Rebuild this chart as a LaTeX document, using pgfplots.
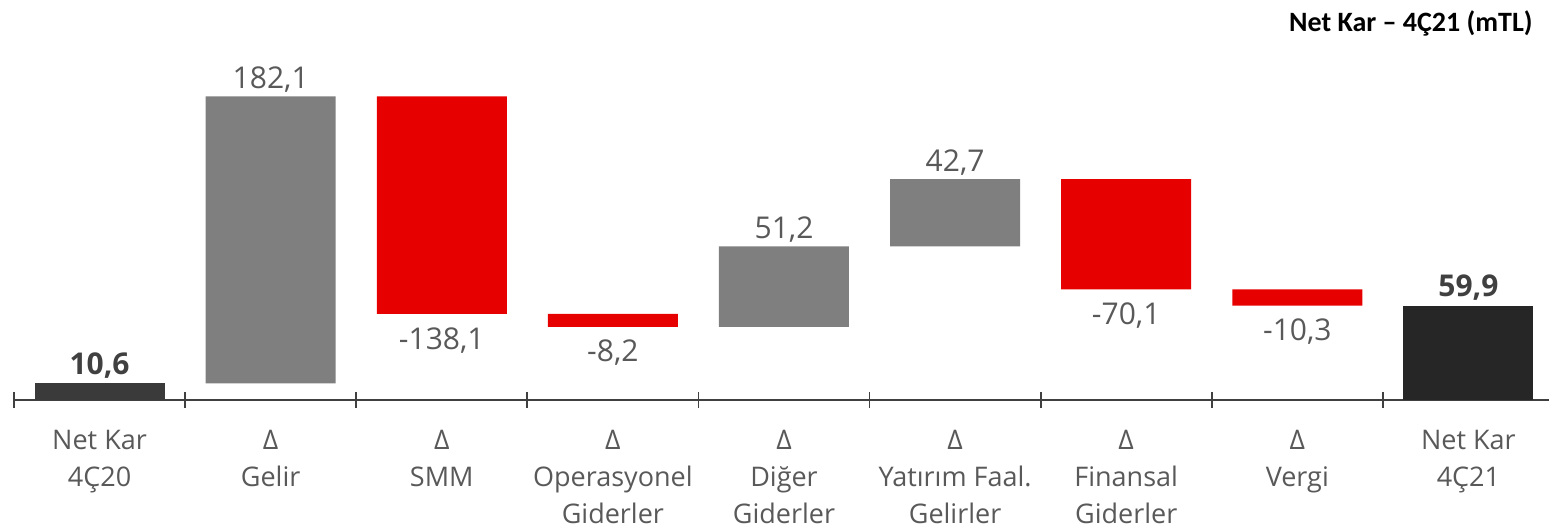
\documentclass[border=0pt]{standalone}
\usepackage{pgfplots}
\usepackage{pgfplotstable}
\pgfplotsset{compat=1.18}
\usepackage{fontspec}
\setmainfont{Open Sans}
\newfontfamily\titlefont{Carlito}
\definecolor{barGray}{HTML}{7F7F7F}
\definecolor{barRed}{HTML}{E60000}
\definecolor{barDarkA}{HTML}{3A3A3A}
\definecolor{barDarkB}{HTML}{262626}
\definecolor{txtGray}{HTML}{595959}
\definecolor{totGray}{HTML}{404040}
\definecolor{axGray}{HTML}{404040}

\pgfplotstableread{
x base gray red darkA darkB
0 0 0 0 10.6 0
1 10.6 182.1 0 0 0
2 54.6 0 138.1 0 0
3 46.4 0 8.2 0 0
4 46.4 51.2 0 0 0
5 97.6 42.7 0 0 0
6 70.2 0 70.1 0 0
7 59.9 0 10.3 0 0
8 0 0 0 0 59.9
}\bars
\pgfplotstableread{
x y lab
1 192.7 182,1
4 97.6 51,2
5 140.3 42,7
}\poslabels
\pgfplotstableread{
x y lab
2 54.6 -138,1
3 46.4 -8,2
6 70.2 -70,1
7 59.9 -10,3
}\neglabels
\pgfplotstableread{
x y lab
0 10.6 10,6
8 59.9 59,9
}\totlabels

\pgfplotsset{wf/.style={scale only axis, width=770pt, height=157.5pt,
  xmin=-0.5, xmax=8.5, ymin=0, ymax=200, clip=false,
  at={(0,0)}, anchor=south west}}

\begin{document}
\begin{tikzpicture}
\path[use as bounding box] (-7pt,-64.5pt) rectangle (767.5pt,200pt);
\begin{axis}[wf, ybar stacked, bar width=65pt,
  axis y line=none, axis x line=bottom, ytick=\empty,
  x axis line style={-, line width=1pt, axGray},
  xtick={0,...,8},
  xticklabels={{Net Kar\\4Ç20},{Δ\\Gelir},{Δ\\SMM},{Δ\\Operasyonel\\Giderler},{Δ\\Diğer\\Giderler},{Δ\\Yatırım Faal.\\Gelirler},{Δ\\Finansal\\Giderler},{Δ\\Vergi},{Net Kar\\4Ç21}},
  major tick length=0pt,
  minor xtick={-0.5,0.5,...,8.5},
  minor tick length=8pt, tick align=center,
  minor tick style={line width=0.9pt, axGray},
  xticklabel style={align=center, font=\fontsize{13.5}{18.5}\selectfont, text=txtGray, inner sep=0pt, yshift=-15pt}]
\addplot[draw=none, fill=none] table[x=x,y=base]{\bars};
\addplot[draw=none, fill=barGray] table[x=x,y=gray]{\bars};
\addplot[draw=none, fill=barRed] table[x=x,y=red]{\bars};
\addplot[draw=none, fill=barDarkA] table[x=x,y=darkA]{\bars};
\addplot[draw=none, fill=barDarkB] table[x=x,y=darkB]{\bars};
\end{axis}
\begin{axis}[wf, hide axis]
\addplot[draw=none, mark=none, nodes near coords, point meta=explicit symbolic,
  every node near coord/.style={anchor=base, yshift=4pt, inner sep=0pt, font=\fontsize{15}{18}\selectfont, text=txtGray}]
  table[x=x,y=y,meta=lab]{\poslabels};
\addplot[draw=none, mark=none, nodes near coords, point meta=explicit symbolic,
  every node near coord/.style={anchor=base, yshift=-17.5pt, inner sep=0pt, font=\fontsize{15}{18}\selectfont, text=txtGray}]
  table[x=x,y=y,meta=lab]{\neglabels};
\addplot[draw=none, mark=none, nodes near coords, point meta=explicit symbolic,
  every node near coord/.style={anchor=base, yshift=4.5pt, inner sep=0pt, font=\fontsize{15}{18}\bfseries\selectfont, text=totGray}]
  table[x=x,y=y,meta=lab]{\totlabels};
\end{axis}
\node[anchor=base east, inner sep=0pt, font=\titlefont\bfseries\fontsize{14}{16}\selectfont] at (759.5pt,184pt) {Net Kar – 4Ç21 (mTL)};
\end{tikzpicture}
\end{document}
